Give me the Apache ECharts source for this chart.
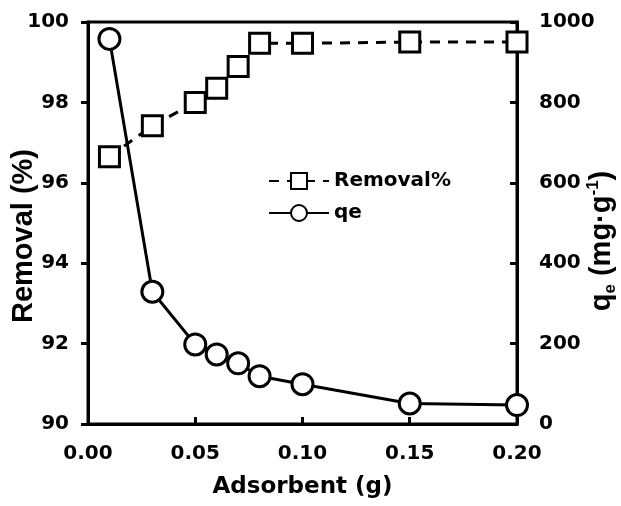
<!DOCTYPE html>
<html>
<head>
<meta charset="utf-8">
<script src="https://cdn.jsdelivr.net/npm/echarts@6/dist/echarts.min.js"></script>
<style>
  html, body { margin: 0; padding: 0; background: #fff; }
  #chart_div { width: 621px; height: 506px; }
</style>
</head>
<body>
<div id="chart_div"></div>
<script>
// adsorbent dose (g)
const adsorbent = [0.01, 0.03, 0.05, 0.06, 0.07, 0.08, 0.10, 0.15, 0.20];
// removal (%) on left axis
const removal = [96.65, 97.42, 98.0, 98.35, 98.89, 99.47, 99.47, 99.5, 99.5];
// qe (mg/g) on right axis
const qe = [958, 329, 198, 173, 151, 119, 99, 51, 47];

// wide font for horizontal text, narrower one for the rotated titles
const WIDE = "DejaVu Sans";
const NARROW = "Liberation Sans";

const myChart = echarts.init(document.getElementById("chart_div"));

const tickLine = { color: "#000", width: 3 };
const labelStyle = {
  color: "#000",
  fontFamily: WIDE,
  fontWeight: "bold",
  fontSize: 20
};

const option = {
  backgroundColor: "#fff",
  animation: false,
  grid: {
    left: 88,
    right: 104,
    top: 22,
    bottom: 82,
    show: true,
    borderColor: "#000",
    borderWidth: 3,
    outerBoundsMode: "none",
    containLabel: false
  },
  legend: {
    orient: "vertical",
    left: 263,
    top: 166,
    itemWidth: 60,
    itemHeight: 20,
    itemGap: 12,
    textStyle: labelStyle,
    data: ["Removal%", "qe"]
  },
  xAxis: {
    type: "value",
    min: 0,
    max: 0.2,
    interval: 0.05,
    name: "Adsorbent (g)",
    nameLocation: "middle",
    nameGap: 52,
    nameMoveOverlap: false,
    nameTextStyle: { color: "#000", fontFamily: WIDE, fontWeight: "bold", fontSize: 23 },
    axisLine: { show: true, lineStyle: tickLine },
    axisTick: { show: true, inside: true, length: 7, lineStyle: tickLine },
    splitLine: { show: false },
    axisLabel: { ...labelStyle, margin: 20, formatter: (v) => v.toFixed(2) }
  },
  yAxis: [
    {
      type: "value",
      position: "left",
      min: 90,
      max: 100,
      interval: 2,
      name: "Removal (%)",
      nameLocation: "middle",
      nameRotate: 90,
      nameGap: 50,
      nameMoveOverlap: false,
      nameTextStyle: {
        color: "#000",
        fontFamily: NARROW,
        fontWeight: "bold",
        fontSize: 29,
        padding: [0, 26, 0, 0]
      },
      axisLine: { show: true, lineStyle: tickLine },
      axisTick: { show: true, inside: false, length: 7, lineStyle: tickLine },
      splitLine: { show: false },
      axisLabel: { ...labelStyle, margin: 19 }
    },
    {
      type: "value",
      position: "right",
      min: 0,
      max: 1000,
      interval: 200,
      name: "{m|q}{sub|e}{m| (mg·g}{sup|-1}{m|)}",
      nameLocation: "middle",
      nameRotate: 90,
      nameGap: 68,
      nameMoveOverlap: false,
      nameTextStyle: {
        color: "#000",
        fontFamily: NARROW,
        fontWeight: "bold",
        fontSize: 29,
        padding: [0, 36, 0, 0],
        rich: {
          m: { fontFamily: NARROW, fontWeight: "bold", fontSize: 29, color: "#000", lineHeight: 34 },
          sub: { fontFamily: NARROW, fontWeight: "bold", fontSize: 17, color: "#000", verticalAlign: "bottom", lineHeight: 34 },
          sup: { fontFamily: NARROW, fontWeight: "bold", fontSize: 17, color: "#000", verticalAlign: "top", lineHeight: 34 }
        }
      },
      axisLine: { show: true, lineStyle: tickLine },
      axisTick: { show: true, inside: true, length: 7, lineStyle: tickLine },
      splitLine: { show: false },
      axisLabel: { ...labelStyle, margin: 22, formatter: (v) => String(v) }
    }
  ],
  series: [
    {
      name: "Removal%",
      type: "line",
      yAxisIndex: 0,
      data: adsorbent.map((x, i) => [x, removal[i]]),
      symbol: "rect",
      symbolSize: 20,
      lineStyle: { color: "#000", width: 3, type: [10, 8] },
      itemStyle: { color: "#fff", borderColor: "#000", borderWidth: 3 },
      z: 3
    },
    {
      name: "qe",
      type: "line",
      yAxisIndex: 1,
      data: adsorbent.map((x, i) => [x, qe[i]]),
      symbol: "circle",
      symbolSize: 21,
      lineStyle: { color: "#000", width: 3 },
      itemStyle: { color: "#fff", borderColor: "#000", borderWidth: 3 },
      z: 4
    }
  ]
};

myChart.setOption(option);
</script>
</body>
</html>
